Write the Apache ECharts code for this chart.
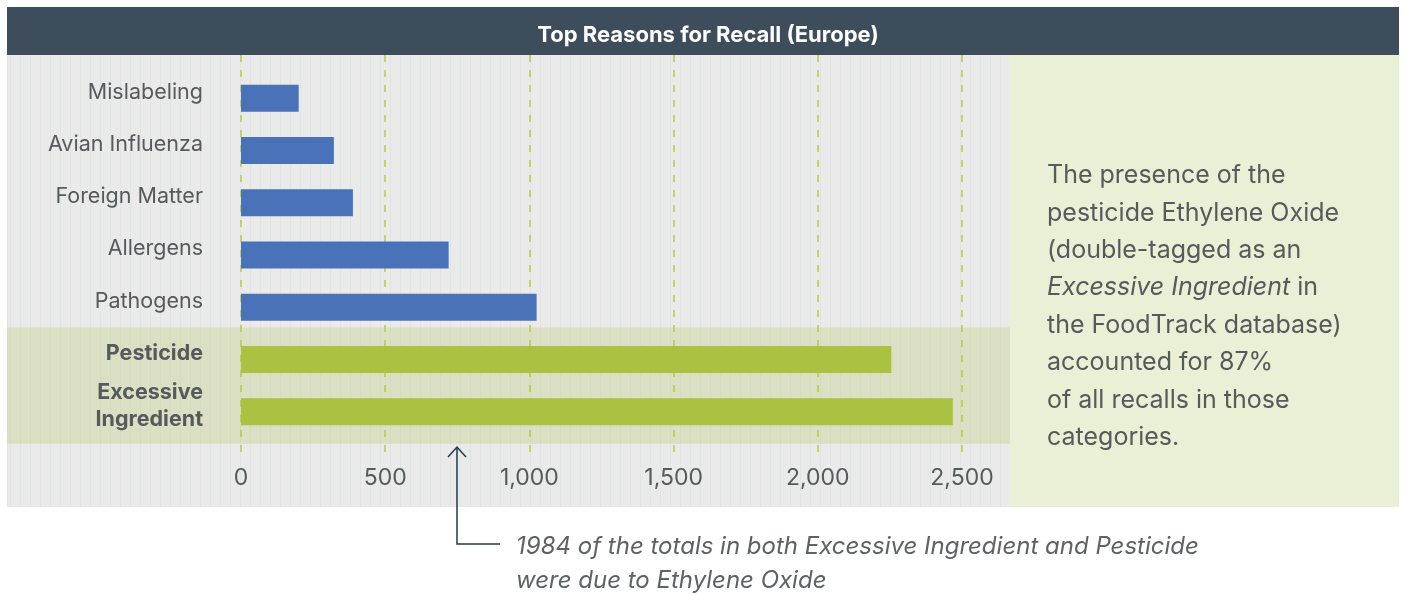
<!DOCTYPE html>
<html>
<head>
<meta charset="utf-8">
<script src="https://cdn.jsdelivr.net/npm/echarts@6/dist/echarts.min.js"></script>
<style>
  body { margin:0; background:#fff; font-family: Inter, "Noto Sans", sans-serif; }
  #wrap { position:relative; width:1403px; height:595px; }
  #titlebar { position:absolute; left:7px; top:7px; width:1392px; height:48px; background:#3d4d5c; }
  #plotbg { position:absolute; left:7px; top:55px; width:1003px; height:452px;
    background: repeating-linear-gradient(90deg, #dfe6df 0 1px, #e9eae9 1px 10px); background-position:3px 0; }
  #sidebg { position:absolute; left:1010px; top:55px; width:389px; height:452px; background:#e9f0d5; }
  #main { position:absolute; left:0; top:0; width:1403px; height:595px; }
</style>
</head>
<body>
<div id="wrap">
  <div id="titlebar"></div>
  <div id="plotbg"></div>
  <div id="sidebg"></div>
  <div id="main"></div>
</div>
<script>
var categories = ['Mislabeling', 'Avian Influenza', 'Foreign Matter', 'Allergens', 'Pathogens', 'Pesticide', 'Excessive Ingredient'];
var recalls = [200, 322, 388, 720, 1025, 2255, 2468];
var highlighted = ['Pesticide', 'Excessive Ingredient'];
var xTicks = [0, 500, 1000, 1500, 2000, 2500];

var blue = '#4a72b8';
var green = '#a9c240';
var textColor = '#555a5c';

var chart = echarts.init(document.getElementById('main'));

var option = {
  backgroundColor: 'transparent',
  textStyle: { fontFamily: 'Inter' },
  title: {
    text: 'Top Reasons for Recall (Europe)',
    left: 703, top: 19, textAlign: 'center',
    textStyle: { color: '#fff', fontSize: 22, fontWeight: 'bold', fontFamily: 'Inter' }
  },
  grid: [
    { left: 241, right: 441, top: 72, bottom: 157 },
    { left: 241, right: 441, top: 55, bottom: 138 }
  ],
  xAxis: [
    { gridIndex: 0, type: 'value', min: 0, max: 2500, interval: 500,
      axisLine: { show: false }, axisTick: { show: false }, axisLabel: { show: false }, splitLine: { show: false } },
    { gridIndex: 1, type: 'value', min: 0, max: 2500, interval: 500,
      axisLine: { show: false }, axisTick: { show: false },
      axisLabel: { color: textColor, fontSize: 23, margin: 10, fontFamily: 'Inter',
        formatter: function (v) { return xTicks.indexOf(v) >= 0 ? v.toLocaleString('en-US') : ''; } },
      splitLine: { show: true, lineStyle: { color: '#b7cb3c', width: 1.5, type: [7, 8] } } }
  ],
  yAxis: [
    { gridIndex: 0, type: 'category', data: categories, inverse: true,
      axisLine: { show: false }, axisTick: { show: false },
      axisLabel: { margin: 38, fontSize: 21.5, color: textColor, fontFamily: 'Inter', padding: [0, 0, 12, 0],
        formatter: function (v) {
          if (highlighted.indexOf(v) >= 0) return '{b|' + v.replace(' ', '}\n{b|') + '}';
          return v;
        },
        rich: { b: { fontWeight: 'bold', fontSize: 21.5, color: textColor, lineHeight: 27, fontFamily: 'Inter' } } } },
    { gridIndex: 1, type: 'category', data: [], show: false }
  ],
  series: [
    { type: 'bar', xAxisIndex: 0, yAxisIndex: 0, barWidth: 27, z: 3,
      data: recalls.map(function (v, i) {
        return { value: v, itemStyle: { color: highlighted.indexOf(categories[i]) >= 0 ? green : blue } };
      }) }
  ]
};
chart.setOption(option);

// band behind the highlighted rows, arrow and text notes
var yA = chart.convertToPixel({ gridIndex: 0 }, [0, categories.indexOf('Pesticide')])[1];
var yB = chart.convertToPixel({ gridIndex: 0 }, [0, categories.indexOf('Excessive Ingredient')])[1];
var half = 32;
var xArrow = 457;

chart.setOption({
  graphic: [
    { type: 'rect', z: -10, silent: true,
      shape: { x: 7, y: yA - half, width: 1003, height: yB - yA + 2 * half },
      style: { fill: 'rgba(169,193,64,0.22)' } },
    { type: 'polyline', z: 10,
      shape: { points: [[xArrow, 447], [xArrow, 544], [500, 544]] },
      style: { stroke: '#1f3b4f', lineWidth: 1.5, fill: null } },
    { type: 'polyline', z: 10,
      shape: { points: [[xArrow - 9, 457], [xArrow, 447], [xArrow + 9, 457]] },
      style: { stroke: '#1f3b4f', lineWidth: 1.5, fill: null } },
    { type: 'text', z: 10, x: 516, y: 530,
      style: { text: '1984 of the totals in both Excessive Ingredient and Pesticide\nwere due to Ethylene Oxide',
        fontSize: 24, fontStyle: 'italic', fill: '#5e6264', lineHeight: 34, fontFamily: 'Inter' } },
    { type: 'text', z: 10, x: 1047, y: 157,
      style: {
        text: 'The presence of the\npesticide Ethylene Oxide\n(double-tagged as an\n{i|Excessive Ingredient} in\nthe FoodTrack database)\naccounted for 87%\nof all recalls in those\ncategories.',
        fontSize: 25, fill: '#555a5c', lineHeight: 37.4, fontFamily: 'Inter',
        rich: { i: { fontStyle: 'italic', fontSize: 25, fill: '#555a5c', lineHeight: 37.4, fontFamily: 'Inter' } } } }
  ]
});
</script>
</body>
</html>
